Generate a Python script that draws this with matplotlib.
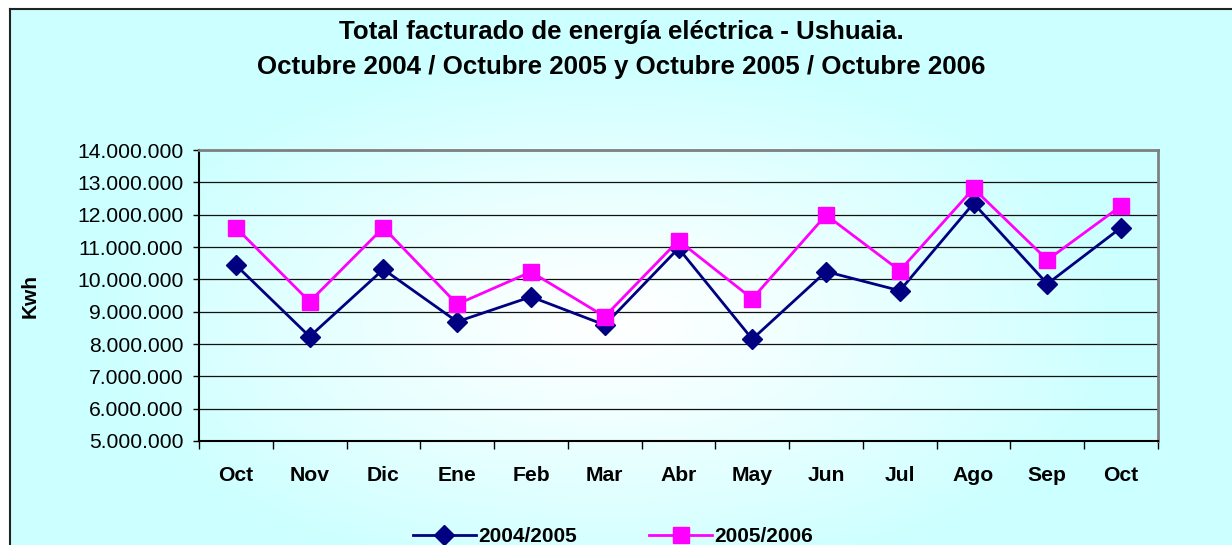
import numpy as np
import matplotlib.pyplot as plt
from matplotlib.colors import to_rgb
from matplotlib.ticker import FuncFormatter, FixedLocator

# data (kWh)
meses = ["Oct", "Nov", "Dic", "Ene", "Feb", "Mar", "Abr",
         "May", "Jun", "Jul", "Ago", "Sep", "Oct"]
serie_0405 = [10440000, 8230000, 10310000, 8690000, 9460000, 8590000, 10960000,
              8150000, 10240000, 9650000, 12350000, 9860000, 11600000]
serie_0506 = [11600000, 9310000, 11600000, 9230000, 10230000, 8850000, 11200000,
              9400000, 11990000, 10270000, 12810000, 10600000, 12270000]
nombres = ["2004/2005", "2005/2006"]

W, H = 1232, 545
plt.rcParams['font.family'] = ['Liberation Sans', 'DejaVu Sans']

fig = plt.figure(figsize=(W / 100, H / 100), dpi=100, facecolor='white')

# background gradient (Excel style: light centre, cyan edges)
bg = fig.add_axes([10 / W, 0, 1 - 10 / W, (H - 9) / H])
yy, xx = np.mgrid[0:H - 9, 0:W - 10]
cx, cy = 610, 320
t = np.sqrt(((xx + 10 - cx) / 520.0) ** 2 + ((yy + 9 - cy) / 270.0) ** 2)
t = np.clip(t, 0, 1) ** 1.2
cyan = np.array(to_rgb('#CCFFFF'))
white = np.array([1.0, 1.0, 1.0])
img = white[None, None, :] * (1 - t[..., None]) + cyan[None, None, :] * t[..., None]
bg.imshow(img, aspect='auto', interpolation='bilinear')
bg.set_xticks([])
bg.set_yticks([])
for s in ['right', 'bottom']:
    bg.spines[s].set_visible(False)
for s in ['left', 'top']:
    bg.spines[s].set_color('#222222')
    bg.spines[s].set_linewidth(1.5)

ax = fig.add_axes([199 / W, (H - 441) / H, (1158 - 199) / W, (441 - 150) / H])
ax.patch.set_alpha(0)

x = np.arange(len(meses))
ax.plot(x, serie_0405, color='#000080', lw=2, marker='D', ms=10,
        label=nombres[0], zorder=3)
ax.plot(x, serie_0506, color='#FF00FF', lw=2, marker='s', ms=11,
        label=nombres[1], zorder=4)

ax.set_xlim(-0.5, len(meses) - 0.5)
ax.set_ylim(5000000, 14000000)
ax.set_yticks(np.arange(5000000, 14000001, 1000000))
ax.yaxis.set_major_formatter(FuncFormatter(lambda v, p: f"{int(v):,}".replace(",", ".")))
ax.tick_params(axis='y', labelsize=15.2, length=4.3, width=1, pad=7)

ax.set_xticks(x)
ax.set_xticklabels(meses, fontsize=15.2, fontweight='bold')
ax.xaxis.set_minor_locator(FixedLocator(np.arange(-0.5, len(meses), 1)))
ax.tick_params(axis='x', which='major', length=0, pad=18)
ax.tick_params(axis='x', which='minor', length=6, width=1)

ax.grid(axis='y', color='#111111', lw=0.9)
ax.set_axisbelow(True)
ax.spines['left'].set_color('black')
ax.spines['bottom'].set_color('black')
ax.spines['left'].set_linewidth(1.5)
ax.spines['bottom'].set_linewidth(1.5)
ax.spines['top'].set_color('#808080')
ax.spines['right'].set_color('#808080')
ax.spines['top'].set_linewidth(2)
ax.spines['right'].set_linewidth(2)

fig.text(30 / W, 1 - 296 / H, "Kwh", rotation=90, ha='center', va='center',
         fontsize=15, fontweight='bold')

fig.text(621 / W, 1 - 32 / H, "Total facturado de energía eléctrica - Ushuaia.",
         ha='center', va='center', fontsize=18.6, fontweight='bold')
fig.text(621 / W, 1 - 67 / H,
         "Octubre 2004 / Octubre 2005 y Octubre 2005 / Octubre 2006",
         ha='center', va='center', fontsize=18.6, fontweight='bold')

fig.legend(loc='center', bbox_to_anchor=(613 / W, 1 - 537 / H), ncol=2,
           frameon=False, prop={'size': 15, 'weight': 'bold'},
           handlelength=3, handletextpad=0.1, columnspacing=3.5, borderpad=0)

fig.savefig("out.png", dpi=100)
